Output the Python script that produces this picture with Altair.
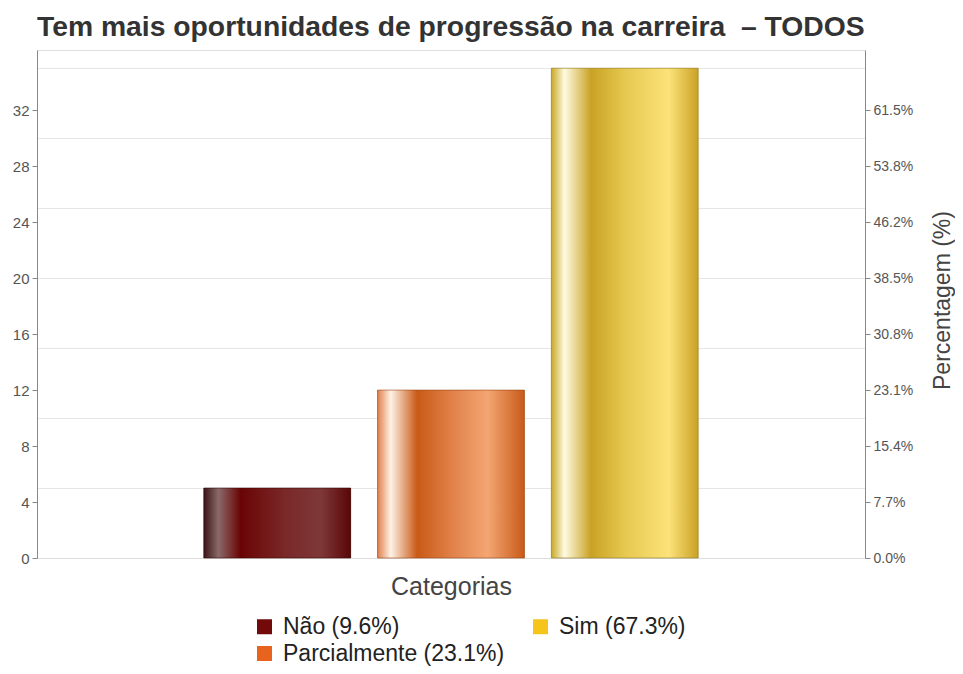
import altair as alt
import pandas as pd

categories = ["Não", "Parcialmente", "Sim"]
counts = [5, 12, 35]
legend_colors = ["#730a0a", "#e8641e", "#f5c51c"]

total = sum(counts)
labels = [f"{c} ({v / total * 100:.1f}%)" for c, v in zip(categories, counts)]
df = pd.DataFrame({"cat": categories, "count": counts, "label": labels})

gradients = {
    "Não": [("#3c1515", 0.0), ("#8a6a6a", 0.1), ("#6a0404", 0.25), ("#7a2828", 0.55), ("#7e3838", 0.8), ("#5a0606", 1.0)],
    "Parcialmente": [("#e0804e", 0.0), ("#fff2e6", 0.09), ("#c95a16", 0.27), ("#e08048", 0.5), ("#f4a672", 0.75), ("#c85a18", 1.0)],
    "Sim": [("#c9a824", 0.0), ("#fffbe2", 0.09), ("#c9a224", 0.27), ("#e6c850", 0.5), ("#fce27a", 0.8), ("#c9a224", 1.0)],
}
strokes = {"Não": "#3a0808", "Parcialmente": "#9a4a18", "Sim": "#8a7a30"}

Y_MAX = 36.3
yscale = alt.Scale(domain=[0, Y_MAX], nice=False, zero=True)
xscale = alt.Scale(paddingInner=0.155, paddingOuter=0.96)
xenc = alt.X("cat:N", scale=xscale, sort=categories,
             axis=alt.Axis(title="Categorias", labels=False, ticks=False, domain=False,
                           titleFontSize=25, titleFontWeight="normal", titleColor="#444",
                           titleFont="Liberation Sans", titlePadding=16))

base = alt.Chart(df)

legend_layer = base.mark_bar().encode(
    x=xenc,
    y=alt.Y("count:Q", scale=yscale,
            axis=alt.Axis(orient="left", title=None, values=[0, 4, 8, 12, 16, 20, 24, 28, 32],
                          grid=False, labelFontSize=15, labelColor="#555", tickColor="#888",
                          domainColor="#888", tickSize=5, labelPadding=3)),
    color=alt.Color("label:N", scale=alt.Scale(domain=labels, range=legend_colors),
                    legend=alt.Legend(title=None, orient="none", legendX=216, legendY=565,
                                      columns=2, symbolType="square",
                                      symbolSize=225, labelFontSize=23, labelColor="#222",
                                      labelFont="Liberation Sans", columnPadding=24, rowPadding=3,
                                      symbolStrokeWidth=0, labelLimit=400, labelOffset=7)),
)

grid_layer = base.mark_rule(opacity=0).encode(
    y=alt.Y("count:Q", scale=yscale,
            axis=alt.Axis(orient="left", title=None, values=[5, 10, 15, 20, 25, 30, 35], grid=True,
                          gridColor="#e6e6e6", labels=False, ticks=False, domain=False)),
)

layers = [grid_layer, legend_layer]
for i, c in enumerate(categories):
    stops = [alt.GradientStop(color=col, offset=off) for col, off in gradients[c]]
    grad = alt.Gradient(gradient="linear", stops=stops, x1=0, x2=1, y1=0, y2=0)
    if i == 0:
        yax = alt.Axis(orient="right", title="Percentagem (%)", values=[0, 4, 8, 12, 16, 20, 24, 28, 32],
                       labelExpr=f"format(datum.value / {total} * 100, '.1f') + '%'",
                       grid=False, labelFontSize=14, labelColor="#555", tickColor="#888",
                       domainColor="#888", tickSize=5, labelPadding=3,
                       titleFontSize=23, titleFontWeight="normal", titleColor="#444",
                       titleFont="Liberation Sans", titleAngle=270, titleX=77, titleY=250,
                       titleAlign="center", titleBaseline="middle")
    else:
        yax = None
    layer = base.transform_filter(alt.datum.cat == c).mark_bar(
        color=grad, stroke=strokes[c], strokeWidth=1, strokeOpacity=0.6
    ).encode(x=xenc, y=alt.Y("count:Q", scale=yscale, axis=yax))
    layers.append(layer)

chart = alt.layer(*layers).resolve_axis(y="independent").resolve_scale(y="shared").properties(
    width=828, height=508,
    autosize=alt.AutoSizeParams(type="none"),
    padding={"left": 29, "top": 42, "right": 90, "bottom": 108},
    title=alt.TitleParams("Tem mais oportunidades de progressão na carreira\u00a0\u00a0– TODOS",
                          anchor="start", frame="group", fontSize=28.3, fontWeight="bold", color="#333",
                          font="Liberation Sans", offset=8),
).configure_view(stroke="#c8c8c8").configure_axis(labelFont="Liberation Sans", domainColor="#999"
).configure(background="white")

chart.save("out.html", embed_options={"renderer": "svg", "actions": False})
